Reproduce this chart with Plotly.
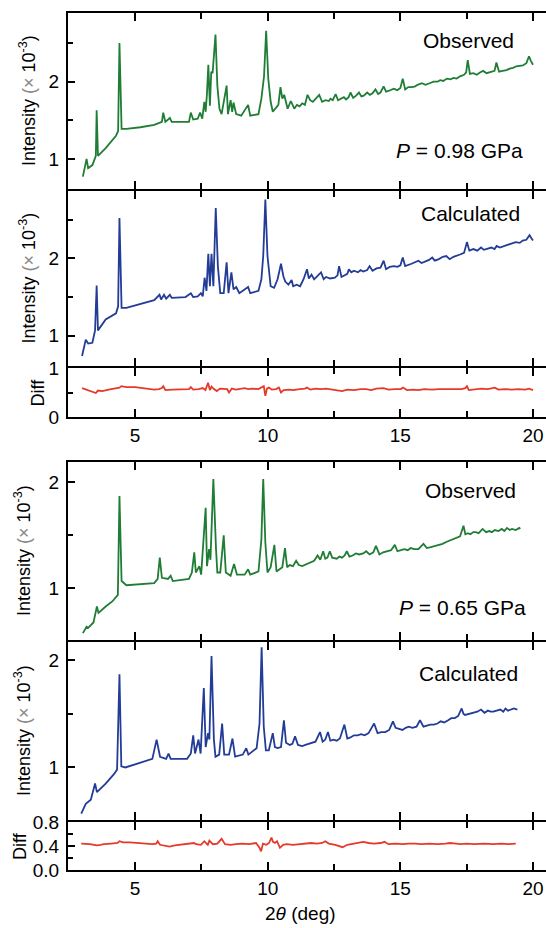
import plotly.graph_objects as go

# ---------------- P = 0.98 GPa ----------------
two_theta_obs_098 = [3.03, 3.17, 3.23, 3.39, 3.52, 3.55, 3.60, 3.89, 4.28, 4.36, 4.41, 4.49, 4.67, 5.20, 5.72,
                     6.01, 6.06, 6.14, 6.31, 6.38, 7.03, 7.10, 7.19, 7.36, 7.45, 7.53, 7.61, 7.66, 7.71, 7.76,
                     7.82, 7.87, 7.92, 8.03, 8.10, 8.18, 8.26, 8.45, 8.50, 8.60, 8.66, 8.71, 8.81, 9.00, 9.26,
                     9.34, 9.65, 9.76, 9.86, 9.94,
                     10.02, 10.11, 10.19, 10.30, 10.40, 10.48, 10.55, 10.62, 10.75, 10.87, 11.00, 11.10, 11.20,
                     11.30, 11.40, 11.50, 11.60, 11.70, 11.81, 11.94, 12.05, 12.18, 12.30, 12.37, 12.45, 12.56,
                     12.65, 12.78, 12.87, 12.95, 13.05, 13.12, 13.22, 13.33, 13.44, 13.53, 13.62, 13.75, 13.85,
                     13.95, 14.06, 14.16, 14.25, 14.37, 14.46, 14.55, 14.65, 14.75, 14.88, 15.00, 15.09, 15.18,
                     15.30, 15.44, 15.56, 15.65, 15.81, 15.95, 16.10, 16.25, 16.40, 16.50, 16.62, 16.75, 16.90,
                     17.00, 17.12, 17.25, 17.40, 17.48, 17.54, 17.62, 17.75, 17.88, 18.00, 18.12, 18.25, 18.40,
                     18.55, 18.62, 18.72, 18.85, 19.00, 19.12, 19.25, 19.37, 19.50, 19.62, 19.75, 19.85, 19.92,
                     20.00]
intensity_obs_098 = [0.77, 1.00, 0.88, 0.92, 1.04, 1.63, 1.04, 1.14, 1.30, 1.36, 2.50, 1.39, 1.39, 1.41, 1.44,
                     1.48, 1.60, 1.48, 1.53, 1.48, 1.48, 1.60, 1.51, 1.52, 1.60, 1.52, 1.74, 1.61, 1.85, 2.22,
                     1.69, 2.13, 2.11, 2.61, 1.95, 1.65, 1.58, 1.95, 1.58, 1.76, 1.61, 1.73, 1.58, 1.56, 1.70,
                     1.56, 1.58, 1.78, 2.07, 2.66,
                     2.04, 1.74, 1.61, 1.66, 1.70, 1.93, 1.78, 1.83, 1.65, 1.75, 1.65, 1.70, 1.68,
                     1.72, 1.70, 1.83, 1.76, 1.74, 1.78, 1.83, 1.74, 1.76, 1.75, 1.78, 1.76, 1.84,
                     1.76, 1.78, 1.80, 1.77, 1.80, 1.86, 1.79, 1.82, 1.86, 1.81, 1.82, 1.86, 1.83,
                     1.85, 1.90, 1.84, 1.86, 1.94, 1.87, 1.88, 1.90, 1.91, 1.89, 1.92, 2.04, 1.90,
                     1.93, 1.93, 1.94, 1.96, 1.98, 1.96, 1.98, 2.00, 2.00, 2.02, 2.01, 2.04, 2.03,
                     2.05, 2.04, 2.07, 2.09, 2.12, 2.28, 2.10, 2.11, 2.09, 2.12, 2.14, 2.11, 2.13,
                     2.14, 2.25, 2.13, 2.14, 2.15, 2.17, 2.18, 2.20, 2.21, 2.21, 2.24, 2.33, 2.27,
                     2.22]

two_theta_calc_098 = [3.00, 3.14, 3.23, 3.39, 3.49, 3.55, 3.60, 3.89, 4.28, 4.36, 4.41, 4.49, 4.67, 5.20, 5.72,
                      5.92, 5.98, 6.09, 6.17, 6.31, 6.38, 6.90, 7.10, 7.19, 7.36, 7.48, 7.55, 7.62, 7.69, 7.76,
                      7.82, 7.88, 7.95, 8.04, 8.12, 8.21, 8.34, 8.45, 8.52, 8.63, 8.71, 8.81, 8.93, 9.26, 9.34,
                      9.65, 9.76, 9.83, 9.91, 9.99,
                      10.11, 10.24, 10.37, 10.50, 10.59, 10.66, 10.78, 10.90, 10.96, 11.09, 11.22, 11.35, 11.48,
                      11.55, 11.65, 11.75, 11.88, 12.01, 12.11, 12.20, 12.35, 12.53, 12.63, 12.69, 12.78, 12.90,
                      13.00, 13.06, 13.15, 13.25, 13.40, 13.50, 13.60, 13.75, 13.84, 13.95, 14.10, 14.25, 14.37,
                      14.46, 14.60, 14.76, 14.89, 15.00, 15.09, 15.18, 15.30, 15.42, 15.55, 15.68, 15.80, 15.94,
                      16.08, 16.20, 16.30, 16.45, 16.60, 16.73, 16.86, 17.00, 17.12, 17.25, 17.40, 17.51, 17.60,
                      17.75, 17.90, 18.04, 18.15, 18.30, 18.43, 18.55, 18.63, 18.75, 18.90, 19.08, 19.20, 19.35,
                      19.50, 19.61, 19.75, 19.87, 19.94, 20.00]
intensity_calc_098 = [0.74, 0.95, 0.90, 0.91, 1.07, 1.65, 1.07, 1.21, 1.29, 1.38, 2.52, 1.36, 1.36, 1.41, 1.46,
                      1.53, 1.47, 1.53, 1.48, 1.53, 1.49, 1.50, 1.55, 1.50, 1.51, 1.55, 1.51, 1.75, 1.58, 2.06,
                      1.64, 2.06, 1.64, 2.65, 1.90, 1.55, 1.55, 1.95, 1.55, 1.82, 1.60, 1.63, 1.55, 1.63, 1.55,
                      1.58, 1.73, 2.03, 2.76, 2.03,
                      1.64, 1.62, 1.73, 1.93, 1.77, 1.70, 1.66, 1.72, 1.64, 1.66, 1.64, 1.73, 1.86,
                      1.74, 1.79, 1.73, 1.77, 1.82, 1.73, 1.76, 1.74, 1.75, 1.78, 1.90, 1.76, 1.78,
                      1.80, 1.86, 1.82, 1.84, 1.82, 1.85, 1.83, 1.85, 1.90, 1.84, 1.87, 1.88, 1.97,
                      1.86, 1.89, 1.90, 1.89, 1.91, 2.01, 1.90, 1.92, 1.93, 1.95, 1.97, 1.94, 1.96,
                      1.98, 2.01, 1.97, 1.99, 2.02, 2.03, 1.99, 2.02, 2.03, 2.05, 2.07, 2.21, 2.10,
                      2.12, 2.10, 2.14, 2.11, 2.13, 2.14, 2.12, 2.16, 2.14, 2.16, 2.18, 2.19, 2.21,
                      2.20, 2.23, 2.24, 2.30, 2.26, 2.23]

two_theta_diff_098 = [3.00, 3.12, 3.23, 3.40, 3.52, 3.60, 3.76, 4.00, 4.30, 4.41, 4.48, 4.67, 5.00, 5.20, 5.50,
                      5.72, 5.90, 6.01, 6.06, 6.14, 6.40, 6.70, 7.03, 7.10, 7.19, 7.40, 7.55, 7.65, 7.75, 7.82,
                      7.88, 7.95, 8.08, 8.20, 8.35, 8.47, 8.54, 8.65, 8.80, 9.00, 9.13, 9.26, 9.40, 9.65, 9.78,
                      9.85, 9.91, 9.97, 10.04, 10.15, 10.31, 10.42, 10.50, 10.60, 10.80, 10.96, 11.20, 11.40,
                      11.48, 11.60, 11.80, 12.01, 12.20, 12.45, 12.65, 12.80, 13.00, 13.25, 13.50, 13.71, 13.90,
                      14.10, 14.37, 14.55, 14.80, 15.02, 15.10, 15.25, 15.50, 15.68, 15.90, 16.20, 16.45, 16.73,
                      17.00, 17.30, 17.45, 17.51, 17.58, 17.80, 18.05, 18.30, 18.56, 18.70, 18.95, 19.20, 19.45,
                      19.70, 19.85, 20.00]
diff_098 = [0.59, 0.57, 0.55, 0.52, 0.49, 0.54, 0.53, 0.56, 0.58, 0.60, 0.63, 0.61, 0.61, 0.60, 0.58,
            0.56, 0.57, 0.59, 0.63, 0.55, 0.56, 0.57, 0.57, 0.61, 0.56, 0.57, 0.59, 0.55, 0.70, 0.55,
            0.62, 0.58, 0.53, 0.58, 0.57, 0.57, 0.50, 0.58, 0.56, 0.58, 0.59, 0.57, 0.58, 0.57, 0.60,
            0.63, 0.43, 0.58, 0.60, 0.56, 0.57, 0.60, 0.50, 0.55, 0.56, 0.55, 0.57, 0.58,
            0.60, 0.56, 0.58, 0.57, 0.58, 0.56, 0.54, 0.53, 0.56, 0.55, 0.57, 0.57, 0.55,
            0.58, 0.59, 0.56, 0.57, 0.57, 0.60, 0.55, 0.56, 0.55, 0.57, 0.56, 0.57, 0.57,
            0.56, 0.57, 0.59, 0.63, 0.55, 0.57, 0.58, 0.57, 0.60, 0.56, 0.57, 0.56, 0.57,
            0.56, 0.58, 0.55]

# ---------------- P = 0.65 GPa ----------------
two_theta_obs_065 = [3.03, 3.17, 3.23, 3.43, 3.56, 3.62, 3.89, 4.15, 4.35, 4.41, 4.49, 4.67, 5.72, 5.85, 5.93,
                     6.01, 6.24, 6.34, 6.42, 7.03, 7.14, 7.23, 7.29, 7.42, 7.49, 7.66, 7.71, 7.79, 7.84, 7.95,
                     8.05, 8.10, 8.21, 8.34, 8.42, 8.60, 8.73, 8.84, 9.13, 9.26, 9.34, 9.65, 9.76, 9.83, 9.91,
                     9.99, 10.11, 10.25, 10.33, 10.44, 10.55, 10.65, 10.73, 10.83, 10.95, 11.07, 11.17, 11.30,
                     11.48, 11.60, 11.75, 11.88, 11.98, 12.09, 12.17, 12.25, 12.34, 12.43, 12.60, 12.70, 12.80,
                     12.90, 12.98, 13.08, 13.20, 13.32, 13.45, 13.60, 13.71, 13.84, 13.98, 14.08, 14.21, 14.35,
                     14.50, 14.65, 14.79, 14.89, 15.02, 15.15, 15.28, 15.39, 15.52, 15.68, 15.87, 16.00, 16.15,
                     16.33, 16.45, 16.59, 16.75, 16.85, 16.99, 17.10, 17.25, 17.38, 17.45, 17.55, 17.64, 17.75,
                     17.84, 17.95, 18.10, 18.23, 18.35, 18.45, 18.56, 18.70, 18.82, 18.92, 19.02, 19.12, 19.21,
                     19.35, 19.48, 19.52]
intensity_obs_065 = [0.58, 0.64, 0.63, 0.68, 0.83, 0.77, 0.83, 0.88, 0.94, 1.87, 1.07, 1.03, 1.05, 1.09, 1.29,
                     1.10, 1.09, 1.12, 1.07, 1.09, 1.15, 1.34, 1.15, 1.21, 1.13, 1.76, 1.21, 1.37, 1.27, 2.03,
                     1.37, 1.15, 1.15, 1.50, 1.15, 1.12, 1.23, 1.13, 1.13, 1.18, 1.13, 1.16, 1.46, 2.03, 1.43,
                     1.15, 1.20, 1.41, 1.16, 1.18, 1.20, 1.38, 1.20, 1.22, 1.21, 1.26, 1.22, 1.21,
                     1.23, 1.24, 1.26, 1.31, 1.27, 1.35, 1.28, 1.29, 1.35, 1.29, 1.28, 1.30, 1.29,
                     1.31, 1.35, 1.30, 1.31, 1.33, 1.32, 1.33, 1.35, 1.32, 1.34, 1.40, 1.32, 1.34,
                     1.35, 1.36, 1.41, 1.35, 1.36, 1.37, 1.36, 1.38, 1.37, 1.37, 1.42, 1.38, 1.39,
                     1.40, 1.41, 1.42, 1.44, 1.45, 1.46, 1.47, 1.49, 1.59, 1.51, 1.52, 1.51, 1.53,
                     1.53, 1.52, 1.56, 1.53, 1.54, 1.53, 1.55, 1.54, 1.56, 1.54, 1.57, 1.55, 1.56,
                     1.55, 1.57, 1.56]

two_theta_calc_065 = [2.97, 3.14, 3.33, 3.49, 3.56, 3.89, 4.21, 4.32, 4.41, 4.48, 4.63, 5.13, 5.65, 5.81, 5.94,
                      6.17, 6.26, 6.34, 6.96, 7.10, 7.19, 7.26, 7.39, 7.47, 7.59, 7.66, 7.75, 7.80, 7.88, 7.97,
                      8.03, 8.17, 8.28, 8.36, 8.54, 8.67, 8.77, 9.06, 9.19, 9.27, 9.58, 9.69, 9.77, 9.85, 9.93,
                      10.04, 10.19, 10.27, 10.37, 10.50, 10.61, 10.69, 10.83, 10.93, 11.03, 11.14, 11.30, 11.42,
                      11.55, 11.68, 11.80, 11.97, 12.07, 12.17, 12.27, 12.36, 12.48, 12.60, 12.72, 12.89, 13.00,
                      13.12, 13.25, 13.39, 13.52, 13.65, 13.80, 14.01, 14.14, 14.28, 14.43, 14.58, 14.72, 14.82,
                      14.95, 15.08, 15.20, 15.32, 15.45, 15.61, 15.74, 15.87, 16.00, 16.13, 16.26, 16.40, 16.52,
                      16.65, 16.80, 16.92, 17.05, 17.18, 17.31, 17.38, 17.44, 17.60, 17.77, 17.90, 18.04, 18.17,
                      18.30, 18.40, 18.50, 18.64, 18.77, 18.88, 18.96, 19.06, 19.16, 19.28, 19.41]
intensity_calc_065 = [0.57, 0.66, 0.70, 0.85, 0.77, 0.85, 0.94, 0.98, 1.87, 1.01, 1.00, 1.04, 1.08, 1.26, 1.10,
                      1.08, 1.13, 1.08, 1.08, 1.13, 1.30, 1.13, 1.26, 1.13, 1.74, 1.19, 1.32, 1.26, 2.04, 1.26,
                      1.10, 1.12, 1.41, 1.12, 1.12, 1.27, 1.10, 1.12, 1.18, 1.12, 1.18, 1.41, 2.12, 1.38, 1.16,
                      1.16, 1.32, 1.19, 1.18, 1.19, 1.44, 1.23, 1.21, 1.22, 1.29, 1.21, 1.20, 1.21,
                      1.22, 1.23, 1.24, 1.33, 1.24, 1.26, 1.33, 1.25, 1.26, 1.25, 1.27, 1.40, 1.27,
                      1.28, 1.30, 1.30, 1.31, 1.30, 1.32, 1.41, 1.32, 1.33, 1.33, 1.35, 1.43, 1.37,
                      1.36, 1.35, 1.37, 1.38, 1.37, 1.38, 1.44, 1.38, 1.39, 1.40, 1.40, 1.41, 1.43,
                      1.42, 1.44, 1.46, 1.46, 1.48, 1.55, 1.50, 1.49, 1.50, 1.51, 1.52, 1.54, 1.51,
                      1.53, 1.52, 1.52, 1.53, 1.54, 1.52, 1.55, 1.53, 1.54, 1.55, 1.54]

two_theta_diff_065 = [2.97, 3.15, 3.30, 3.45, 3.56, 3.70, 3.82, 4.10, 4.34, 4.41, 4.55, 4.80, 5.13, 5.40, 5.65,
                      5.80, 5.85, 5.94, 6.10, 6.30, 6.50, 6.70, 7.00, 7.22, 7.30, 7.48, 7.61, 7.68, 7.74, 7.80,
                      7.93, 8.10, 8.26, 8.39, 8.60, 8.80, 9.04, 9.30, 9.56, 9.69, 9.75, 9.82, 9.95, 10.05, 10.14,
                      10.20, 10.27, 10.35, 10.46, 10.58, 10.72, 10.95, 11.20, 11.40, 11.64, 11.85, 12.05, 12.17,
                      12.30, 12.55, 12.82, 13.00, 13.30, 13.60, 13.80, 14.00, 14.26, 14.40, 14.55, 14.80, 15.10,
                      15.30, 15.56, 15.80, 16.10, 16.40, 16.70, 16.87, 17.10, 17.26, 17.50, 17.80, 18.17, 18.50,
                      18.80, 19.10, 19.35]
diff_065 = [0.44, 0.44, 0.43, 0.42, 0.41, 0.42, 0.43, 0.44, 0.45, 0.48, 0.46, 0.46, 0.45, 0.44, 0.43,
            0.44, 0.48, 0.42, 0.41, 0.39, 0.41, 0.42, 0.43, 0.45, 0.43, 0.42, 0.48, 0.44, 0.42, 0.49,
            0.43, 0.44, 0.52, 0.43, 0.42, 0.43, 0.44, 0.43, 0.45, 0.37, 0.31, 0.44, 0.42, 0.45, 0.54,
            0.47, 0.45, 0.48, 0.37, 0.42, 0.43, 0.42, 0.43, 0.44, 0.45, 0.44, 0.45, 0.48,
            0.44, 0.42, 0.38, 0.42, 0.44, 0.47, 0.45, 0.44, 0.45, 0.47, 0.43, 0.44, 0.43,
            0.44, 0.44, 0.43, 0.44, 0.43, 0.44, 0.45, 0.44, 0.43, 0.44, 0.43, 0.44, 0.43,
            0.44, 0.43, 0.44]

# ---------------- layout helpers ----------------
W, H = 546, 928
X_RANGE = [2.47, 20.49]
GREEN, BLUE, RED = "#1f7d35", "#233c96", "#e53a2b"
FONT = "Arial, Liberation Sans, Helvetica, sans-serif"


def ydom(top_px, bottom_px):
    return [1 - bottom_px / H, 1 - top_px / H]


# (top px, bottom px, y-range, major dtick, minor dtick, tick format)
# stacked panels start 2 px lower so that the shared frame lines coincide
panels = [
    (13, 189, [0.61, 2.89], 1, 0.5, "d"),
    (191, 366, [0.61, 2.87], 1, 0.5, "d"),
    (368, 417, [-0.0005, 1.0005], 1, 0.5, "d"),
    (462, 640, [0.515, 2.19], 1, 0.5, "d"),
    (642, 820, [0.51, 2.17], 1, 0.5, "d"),
    (822, 870, [-0.0004, 0.8004], 0.4, 0.2, ".1f"),
]
series = [
    (two_theta_obs_098, intensity_obs_098, GREEN),
    (two_theta_calc_098, intensity_calc_098, BLUE),
    (two_theta_diff_098, diff_098, RED),
    (two_theta_obs_065, intensity_obs_065, GREEN),
    (two_theta_calc_065, intensity_calc_065, BLUE),
    (two_theta_diff_065, diff_065, RED),
]

fig = go.Figure()
layout = dict(
    width=W, height=H, margin=dict(l=0, r=0, t=0, b=0),
    paper_bgcolor="white", plot_bgcolor="white", showlegend=False,
    font=dict(family=FONT, color="black", size=18),
)

x_left = 68 / W
for i, ((top, bot, yr, dt, mdt, fmt), (xs, ys, col)) in enumerate(zip(panels, series), start=1):
    sx = "" if i == 1 else str(i)
    xa, ya = "x" + sx, "y" + sx
    fig.add_trace(go.Scatter(x=xs, y=ys, mode="lines", line=dict(color=col, width=1.8),
                             xaxis=xa, yaxis=ya, hoverinfo="skip"))
    layout["xaxis" + sx] = dict(
        domain=[x_left, 1], range=X_RANGE, anchor=ya, automargin=False,
        showline=True, linewidth=2, linecolor="black", mirror="allticks",
        ticks="inside", ticklen=8, tickwidth=2, tickcolor="black",
        tick0=0, dtick=5, minor=dict(dtick=2.5, ticks="inside", ticklen=6, tickwidth=2, tickcolor="black"),
        showgrid=False, zeroline=False, showticklabels=(i in (3, 6)),
        tickfont=dict(size=19, family=FONT),
    )
    layout["yaxis" + sx] = dict(
        domain=ydom(top, bot), range=yr, anchor=xa, automargin=False,
        showline=True, linewidth=2, linecolor="black", mirror=False,
        ticks="inside", ticklen=7, tickwidth=2, tickcolor="black",
        tick0=0, dtick=dt, tickformat=fmt,
        minor=dict(dtick=mdt, ticks="inside", ticklen=5, tickwidth=2, tickcolor="black"),
        showgrid=False, zeroline=False, tickfont=dict(size=19, family=FONT),
        ticklabelstandoff=3,
    )
    # right-hand tick marks (the frame edge sits at the page border)
    rid = str(i + 6)
    layout["yaxis" + rid] = dict(
        overlaying=ya, side="right", anchor=xa, range=yr, automargin=False,
        showline=False, ticks="inside", ticklen=7, tickwidth=2, tickcolor="black",
        tick0=0, dtick=dt, minor=dict(dtick=mdt, ticks="inside", ticklen=5, tickwidth=2, tickcolor="black"),
        showticklabels=False, showgrid=False, zeroline=False,
    )

fig.update_layout(**layout)

gray = "<span style='color:#8a8a8a'>(×</span>"
ytitle = "Intensity " + gray + " 10<sup>-3</sup>)"
ann = []
# (panel top px, panel bottom px, title centre x px)
for top, bot, xc in [(13, 189, 28), (191, 366, 28), (462, 640, 22), (642, 820, 22)]:
    ann.append(dict(text=ytitle, x=xc / W, y=1 - (top + bot) / 2 / H, xref="paper", yref="paper",
                    xanchor="center", yanchor="middle",
                    textangle=-90, showarrow=False, font=dict(size=18, family=FONT)))
for top, bot, xc in [(368, 417, 37), (822, 870, 20)]:
    ann.append(dict(text="Diff", x=xc / W, y=1 - (top + bot) / 2 / H, xref="paper", yref="paper",
                    xanchor="center", yanchor="middle",
                    textangle=-90, showarrow=False, font=dict(size=18, family=FONT)))

labels = [
    ("Observed", 516, 40),
    ("<i>P</i> = 0.98 GPa", 525, 150),
    ("Calculated", 522, 213),
    ("Observed", 518, 490),
    ("<i>P</i> = 0.65 GPa", 528, 607),
    ("Calculated", 520, 673),
]
for txt, xr, yc in labels:
    ann.append(dict(text=txt, x=xr / W, y=1 - yc / H, xref="paper", yref="paper",
                    xanchor="right", yanchor="middle", showarrow=False,
                    font=dict(size=21, family=FONT)))

ann.append(dict(text="2<i>θ</i> (deg)", x=300 / W, y=1 - 913 / H, xref="paper", yref="paper",
                xanchor="center", yanchor="middle", showarrow=False, font=dict(size=19, family=FONT)))
fig.update_layout(annotations=ann)

fig.write_html("out.html")
